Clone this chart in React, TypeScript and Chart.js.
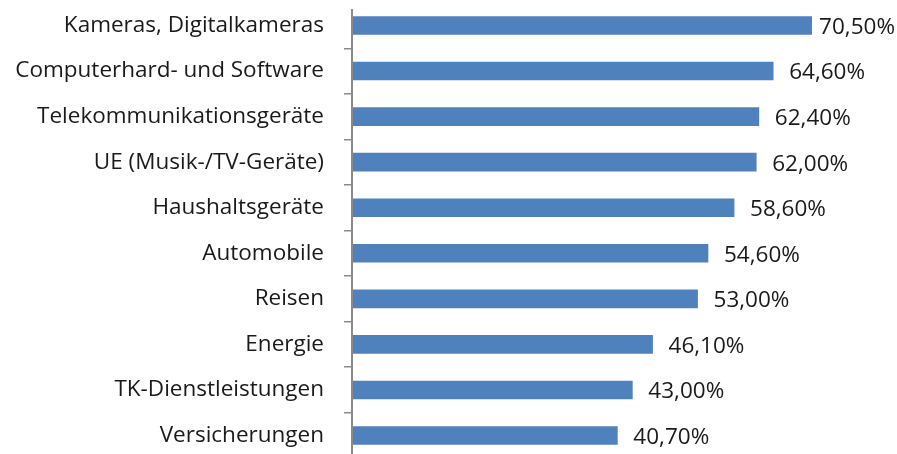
import React, { useEffect, useRef } from "react";
import { Chart, registerables } from "chart.js";

Chart.register(...registerables);

const categories: string[] = [
  "Kameras, Digitalkameras",
  "Computerhard- und Software",
  "Telekommunikationsgeräte",
  "UE (Musik-/TV-Geräte)",
  "Haushaltsgeräte",
  "Automobile",
  "Reisen",
  "Energie",
  "TK-Dienstleistungen",
  "Versicherungen",
];

const values: number[] = [70.5, 64.6, 62.4, 62.0, 58.6, 54.6, 53.0, 46.1, 43.0, 40.7];

const valueLabels: string[] = values.map((v) => v.toFixed(2).replace(".", ",") + "%");

const FONT_FAMILY = "'Open Sans', sans-serif";
const FONT_SIZE = 22.5;

const valueLabelPlugin = {
  id: "valueLabels",
  afterDatasetsDraw(chart: any) {
    const ctx = chart.ctx;
    const meta = chart.getDatasetMeta(0);
    ctx.save();
    ctx.font = `${FONT_SIZE}px ${FONT_FAMILY}`;
    ctx.fillStyle = "#1a1a1a";
    ctx.textBaseline = "middle";
    ctx.textAlign = "left";
    meta.data.forEach((bar: any, i: number) => {
      const text = valueLabels[i];
      const w = ctx.measureText(text).width;
      let x = bar.x + 16;
      if (x + w > 895) x = 895 - w;
      ctx.fillText(text, x, bar.y + 2);
    });
    ctx.strokeStyle = "#8a8a8a";
    ctx.lineWidth = 2;
    ctx.beginPath();
    ctx.moveTo(chart.chartArea.left, 9);
    ctx.lineTo(chart.chartArea.left, chart.chartArea.bottom);
    ctx.stroke();
    ctx.restore();
  },
};

export default function App() {
  const ref = useRef<HTMLCanvasElement | null>(null);
  useEffect(() => {
    if (!ref.current) return;
    const chart = new Chart(ref.current, {
      type: "bar",
      data: {
        labels: categories,
        datasets: [
          {
            data: values,
            backgroundColor: "#4F81BD",
            borderWidth: 0,
            barThickness: 18,
            categoryPercentage: 1,
          },
        ],
      },
      options: {
        indexAxis: "y",
        animation: false,
        responsive: false,
        maintainAspectRatio: false,
        layout: { padding: { top: 2.7, bottom: 1.7, left: 0, right: 23.4 } },
        plugins: { legend: { display: false }, tooltip: { enabled: false } },
        scales: {
          x: { display: false, min: 0, max: 80 },
          y: {
            afterFit: (scale: any) => {
              scale.width = 352;
              scale.paddingTop = 0;
              scale.paddingBottom = 0;
            },
            border: { display: false },
            grid: {
              offset: true,
              drawOnChartArea: false,
              drawTicks: true,
              tickLength: 8,
              lineWidth: 1.5,
              color: (c: any) => (c.index === 0 ? "rgba(0,0,0,0)" : "#8a8a8a"),
            },
            ticks: {
              padding: 20,
              color: "#1a1a1a",
              font: { size: FONT_SIZE, family: FONT_FAMILY },
            },
          },
        },
      },
      plugins: [valueLabelPlugin],
    });
    return () => chart.destroy();
  }, []);
  return (
    <div style={{ position: "absolute", left: 0, top: 0, width: 897, height: 460 }}>
      <canvas ref={ref} width={897} height={460} style={{ width: 897, height: 460, display: "block" }} />
    </div>
  );
}
